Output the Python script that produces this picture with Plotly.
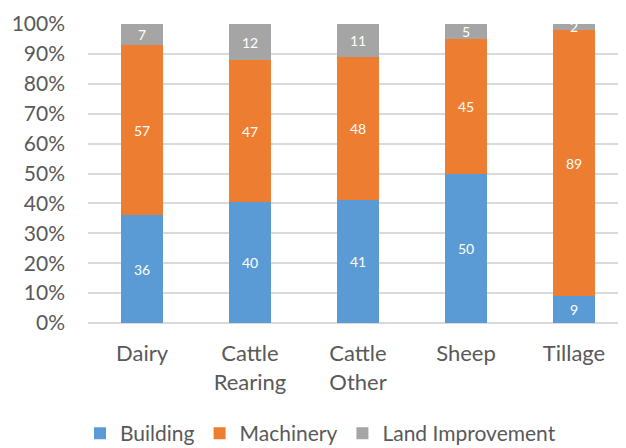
import plotly.graph_objects as go

categories = ["Dairy", "Cattle<br>Rearing", "Cattle<br>Other", "Sheep", "Tillage"]
building = [36, 40, 41, 50, 9]
machinery = [57, 47, 48, 45, 89]
land_improvement = [7, 12, 11, 5, 2]

series = [
    ("Building", building, "#5B9BD5"),
    ("Machinery", machinery, "#ED7D31"),
    ("Land Improvement", land_improvement, "#A5A5A5"),
]

fig = go.Figure()
for name, vals, color in series:
    fig.add_trace(go.Bar(
        name=name, x=categories, y=vals,
        marker=dict(color=color, line=dict(width=0)),
        text=[str(v) for v in vals],
        textposition="inside", insidetextanchor="middle",
        textfont=dict(color="white", size=14, family="Lato"),
        textangle=0,
    ))

# page body has an 8px offset; margins compensate
fig.update_layout(
    barmode="stack", barnorm="percent",
    width=626, height=448,
    margin=dict(l=80, r=6, t=16, b=133),
    plot_bgcolor="white", paper_bgcolor="white",
    bargap=0.61,
    font=dict(family="Lato", color="#595959", size=21),
    uniformtext=dict(mode="show", minsize=14),
    legend=dict(orientation="h", xref="container", x=0.115, xanchor="left",
                yref="container", y=0.05, yanchor="middle",
                font=dict(size=21, color="#595959"), traceorder="normal"),
    xaxis=dict(showgrid=False, showline=False, ticks="", tickfont=dict(size=22),
               automargin=False, ticklabelstandoff=15),
    yaxis=dict(range=[0, 100], dtick=10, ticksuffix="%", showgrid=True,
               gridcolor="#D9D9D9", gridwidth=1.5, zeroline=True, zerolinecolor="#D9D9D9",
               zerolinewidth=1.5, tickfont=dict(size=21), ticklabelstandoff=22,
               automargin=False),
)
fig.write_html("out.html")
